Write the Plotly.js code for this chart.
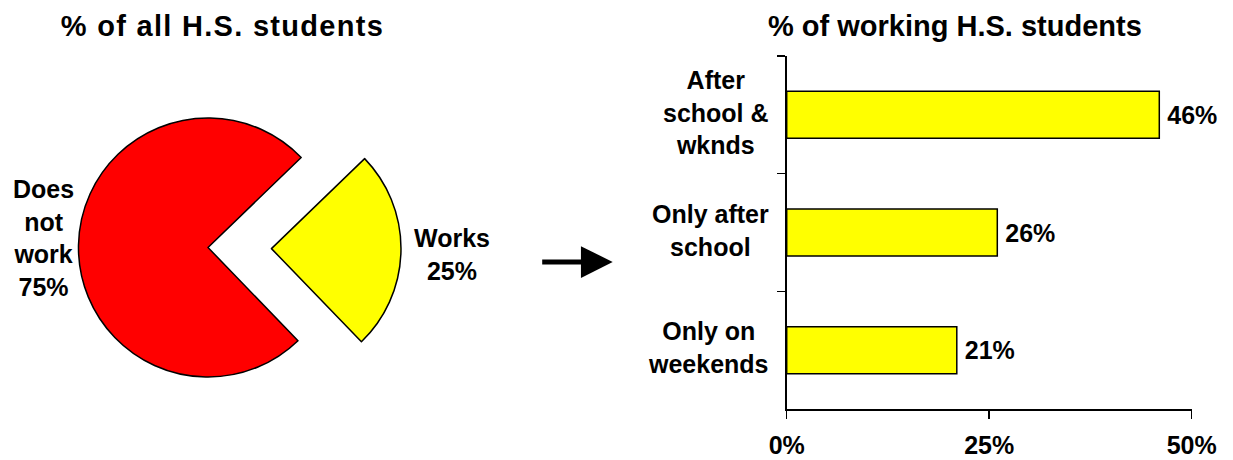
<!DOCTYPE html>
<html>
<head>
<meta charset="utf-8">
<script src="https://cdn.plot.ly/plotly-3.0.1.min.js"></script>
<style>
  html, body { margin: 0; padding: 0; background: #ffffff; }
  #chart { width: 1233px; height: 460px; }
  /* the reference's left title is set a little wider */
  #chart .annotation[data-index="0"] text { letter-spacing: 1.3px; }
</style>
</head>
<body>
<div id="chart"></div>
<script>
// ---- Data ----
var pieTitle = "% of all H.S. students";
var pieLabels = ["Does not work", "Works"];
var pieLabelLines = ["Does<br>not<br>work", "Works"];
var pieValues = [75, 25];
var pieColors = ["#FF0000", "#FFFF00"];
var piePull = [0, 0.49];

var barTitle = "% of working H.S. students";
var barCategories = ["After school & wknds", "Only after school", "Only on weekends"];
var barCategoryLines = ["After<br>school &amp;<br>wknds", "Only after<br>school", "Only on<br>weekends"];
var barValues = [46, 26, 21];
var xTickVals = [0, 25, 50];
var xTickText = ["0%", "25%", "50%"];

// ---- Layout helpers (page is 1233 x 460, zero margins) ----
var W = 1233, H = 460;
function px(x) { return x / W; }
function py(y) { return 1 - y / H; }

var FONT = "Liberation Sans, Arial, Helvetica, sans-serif";

var pieTrace = {
  type: "pie",
  labels: pieLabels,
  values: pieValues,
  sort: false,
  direction: "clockwise",
  rotation: 136,
  pull: piePull,
  marker: { colors: pieColors, line: { color: "#000000", width: 1.5 } },
  textinfo: "none",
  hoverinfo: "none",
  showlegend: false,
  domain: { x: [px(208 - 193), px(208 + 193)], y: [py(247.5 + 200), py(247.5 - 200)] }
};

var barTrace = {
  type: "bar",
  orientation: "h",
  y: barCategories,
  x: barValues,
  xaxis: "x",
  yaxis: "y",
  marker: { color: "#FFFF00", line: { color: "#000000", width: 1.5 } },
  texttemplate: "\u2009%{x}%",
  textposition: "outside",
  textfont: { family: FONT, size: 25, color: "#000000", weight: "bold" },
  constraintext: "none",
  cliponaxis: false,
  hoverinfo: "none",
  showlegend: false
};

var annotations = [];
// titles
annotations.push({ text: pieTitle, xref: "paper", yref: "paper", x: px(222), y: py(26),
  xanchor: "center", yanchor: "middle", showarrow: false,
  font: { family: FONT, size: 29, color: "#000", weight: "bold" } });
annotations.push({ text: barTitle, xref: "paper", yref: "paper", x: px(955), y: py(26),
  xanchor: "center", yanchor: "middle", showarrow: false,
  font: { family: FONT, size: 29, color: "#000", weight: "bold" } });
// pie labels
var pieLabelPos = [[43, 238], [451.5, 254]];
for (var i = 0; i < pieLabels.length; i++) {
  annotations.push({ text: pieLabelLines[i] + "<br>" + pieValues[i] + "%",
    xref: "paper", yref: "paper", x: px(pieLabelPos[i][0]), y: py(pieLabelPos[i][1]),
    xanchor: "center", yanchor: "middle", align: "center", showarrow: false,
    font: { family: FONT, size: 25, color: "#000", weight: "bold" } });
}
// bar category labels (centered multi-line, right-anchored next to the axis)
for (var j = 0; j < barCategories.length; j++) {
  annotations.push({ text: barCategoryLines[j], xref: "paper", yref: "y",
    x: px(771), y: barCategories[j], xanchor: "right", yanchor: "middle",
    align: "center", showarrow: false, yshift: 2.5,
    font: { family: FONT, size: 25, color: "#000", weight: "bold" } });
}
// connecting arrow
annotations.push({ text: "", xref: "paper", yref: "paper", x: px(612.7), y: py(262),
  axref: "pixel", ayref: "pixel", ax: -72, ay: 0, showarrow: true,
  arrowhead: 2, arrowsize: 1.27, arrowwidth: 5, arrowcolor: "#000000", standoff: 0 });

var layout = {
  width: W, height: H,
  margin: { l: 0, r: 0, t: 0, b: 0, pad: 0 },
  paper_bgcolor: "#ffffff",
  plot_bgcolor: "rgba(0,0,0,0)",
  showlegend: false,
  bargap: 0.6,
  font: { family: FONT, color: "#000000" },
  xaxis: {
    domain: [px(786.7), px(1191.7)],
    range: [0, 50],
    anchor: "y",
    showgrid: false, zeroline: false,
    showline: true, linecolor: "#000000", linewidth: 1.5,
    ticks: "outside", ticklen: 8, tickwidth: 1.5, tickcolor: "#000000",
    tickvals: xTickVals, ticktext: xTickText,
    tickfont: { family: FONT, size: 25, color: "#000", weight: "bold" },
    ticklabelstandoff: 5,
    fixedrange: true
  },
  yaxis: {
    domain: [py(409), py(56)],
    type: "category",
    categoryorder: "array", categoryarray: barCategories,
    range: [2.5, -0.5],
    anchor: "x",
    showgrid: false, zeroline: false,
    showline: true, linecolor: "#000000", linewidth: 1.5,
    ticks: "outside", tickson: "boundaries", ticklen: 8, tickwidth: 1.5, tickcolor: "#000000",
    showticklabels: false,
    fixedrange: true
  },
  annotations: annotations
};

Plotly.newPlot("chart", [pieTrace, barTrace], layout, { staticPlot: true, displayModeBar: false });
</script>
</body>
</html>
